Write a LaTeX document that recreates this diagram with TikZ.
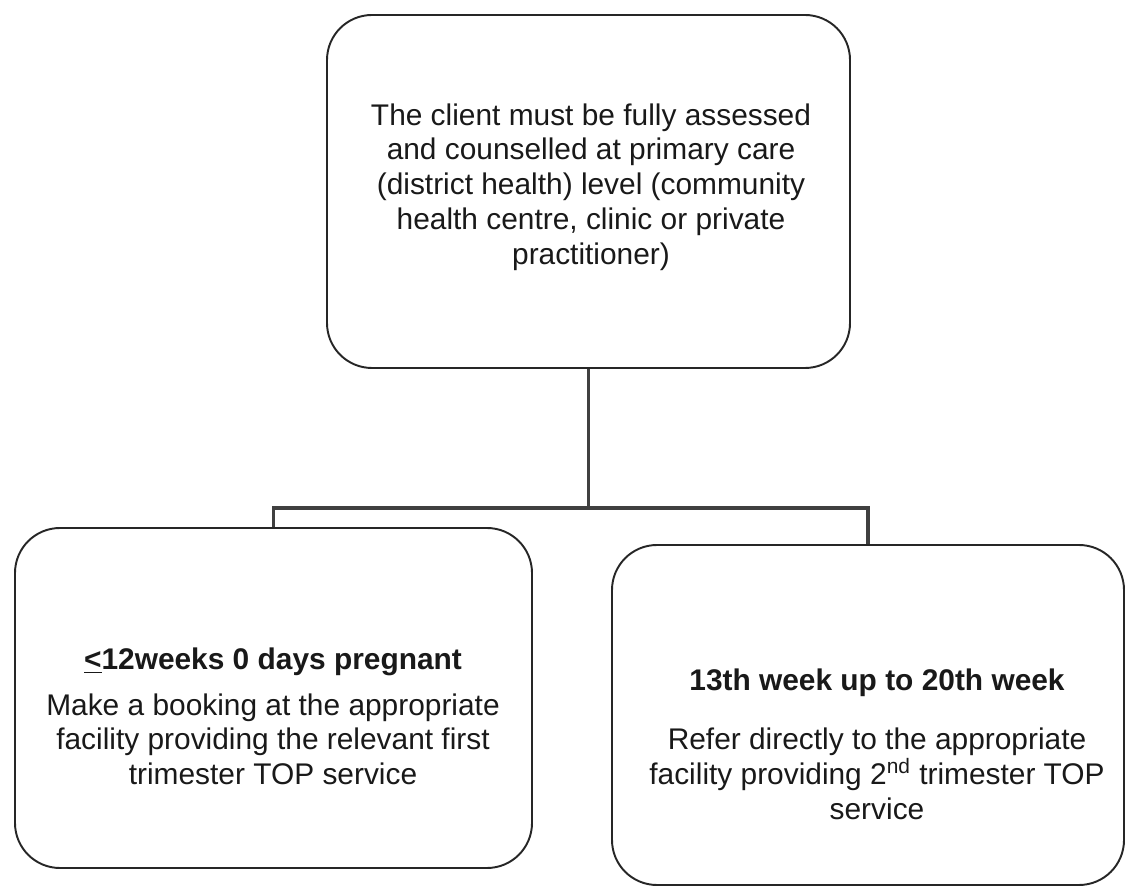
\documentclass[tikz,border=0pt]{standalone}
\usepackage{fontspec}
\setmainfont{Liberation Sans}
\usepackage{tikz}
\usetikzlibrary{positioning}

\tikzset{
 box/.style={draw=black!85,line width=1.1pt,rounded corners=0.9cm},
 txt/.style={align=center,text=black!90,font=\fontsize{17}{19.8}\selectfont},
 conn/.style={draw=black!75,line width=2.2pt}
}

\begin{document}
\begin{tikzpicture}
 \useasboundingbox (0,0) rectangle (22.52,17.78);
 % boxes
 \node[box,minimum width=10.46cm,minimum height=7.06cm] (top) at (11.77,13.95) {};
 \node[box,minimum width=10.34cm,minimum height=6.8cm] (lbox) at (5.47,3.82) {};
 \node[box,minimum width=10.24cm,minimum height=6.8cm] (rbox) at (17.36,3.48) {};
 % texts
 \node[txt] (toptext) at (11.82,14.04) {The client must be fully assessed\\
  and counselled at primary care\\
  (district health) level (community\\
  health centre, clinic or private\\
  practitioner)};
 \node[txt] (ltext) at (5.46,3.45) {\textbf{\underline{<}12weeks 0 days pregnant}\\[6pt]
  Make a booking at the appropriate\\
  facility providing the relevant first\\
  trimester TOP service};
 \node[txt] (rtext) at (17.54,2.9) {\textbf{13th week up to 20th week}\\[14pt]
  Refer directly to the appropriate\\
  facility providing 2\textsuperscript{nd} trimester TOP\\
  service};
 % connectors
 \coordinate (bar) at (11.6,7.62);
 \draw[conn] (top.south) -- (top.south |- bar) -| (lbox.north);
 \draw[conn] (top.south |- bar) -| (rbox.north);
\end{tikzpicture}
\end{document}
